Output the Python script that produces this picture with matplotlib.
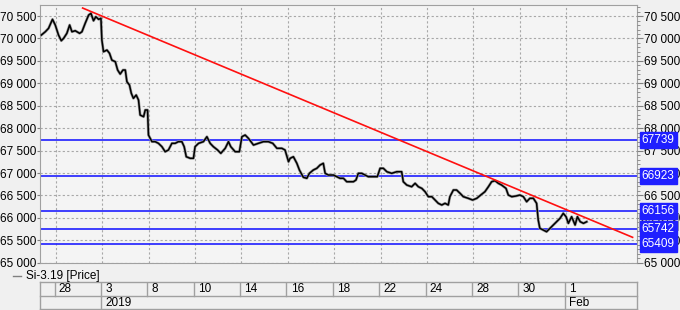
import matplotlib.pyplot as plt
from matplotlib.lines import Line2D
from matplotlib.ticker import FuncFormatter, MultipleLocator

# ======================
# DATA (x in trading days, 0 = Dec 28)
# ======================
day_x = [-0.63, -0.46, -0.32, -0.15, -0.03, 0.11, 0.23, 0.33, 0.47, 0.59, 0.69, 0.83,
         1.02, 1.12, 1.26, 1.41, 1.51, 1.62, 1.72, 1.84, 1.94, 1.98, 2.05, 2.20,
         2.31, 2.41, 2.56, 2.66, 2.77, 2.89, 2.99, 3.06, 3.17, 3.25, 3.34, 3.46,
         3.56, 3.63, 3.78, 3.85, 3.95, 3.99, 4.14, 4.28, 4.42, 4.57, 4.71, 4.85,
         5.00, 5.14, 5.28, 5.43, 5.53, 5.62, 5.79, 5.93, 6.00, 6.15, 6.36, 6.51,
         6.65, 6.79, 6.97, 7.11, 7.30, 7.44, 7.54, 7.73, 7.91, 8.02, 8.16, 8.30,
         8.52, 8.73, 8.95, 9.16, 9.35, 9.53, 9.74, 9.88, 10.03, 10.10, 10.24, 10.39,
         10.50, 10.67, 10.82, 10.93, 11.10, 11.25, 11.39, 11.53, 11.61, 11.75, 11.97, 12.11,
         12.25, 12.40, 12.54, 12.69, 12.83, 12.94, 13.04, 13.19, 13.33, 13.47, 13.69, 13.86,
         13.98, 14.12, 14.27, 14.48, 14.70, 14.91, 14.98, 15.13, 15.34, 15.49, 15.63, 15.78,
         15.92, 16.06, 16.21, 16.35, 16.49, 16.64, 16.78, 16.92, 16.99, 17.14, 17.28, 17.43,
         17.57, 17.78, 17.97, 18.15, 18.32, 18.50, 18.65, 18.79, 18.94, 19.08, 19.22, 19.41,
         19.51, 19.66, 19.84, 20.01, 20.16, 20.30, 20.44, 20.59, 20.73, 20.80, 20.87, 21.02,
         21.16, 21.31, 21.45, 21.59, 21.74, 21.88, 22.00, 22.10, 22.24, 22.39, 22.49, 22.61,
         22.75, 22.89]
price = [70077, 70150, 70226, 70427, 70300, 70077, 69950, 70003, 70115, 70300, 70150, 70173,
         70115, 70150, 70338, 70523, 70560, 70396, 70485, 70427, 70450, 69965, 69705, 69742,
         69669, 69519, 69481, 69297, 69207, 69297, 69297, 69036, 68962, 68777, 68665, 68739,
         68628, 68293, 68255, 68405, 68405, 67847, 67699, 67699, 67662, 67587, 67475, 67513,
         67662, 67662, 67699, 67699, 67587, 67363, 67328, 67328, 67587, 67662, 67699, 67810,
         67662, 67587, 67513, 67439, 67551, 67699, 67587, 67475, 67475, 67810, 67847, 67774,
         67624, 67662, 67699, 67699, 67662, 67551, 67551, 67513, 67252, 67328, 67363, 67216,
         67067, 66904, 66882, 66993, 67067, 67105, 67178, 67216, 66993, 66955, 66955, 66918,
         66882, 66882, 66806, 66806, 66806, 66844, 66993, 66993, 66955, 66918, 66918, 66918,
         67105, 67105, 67029, 66993, 67029, 67029, 66806, 66732, 66694, 66770, 66694, 66657,
         66583, 66472, 66472, 66398, 66324, 66287, 66324, 66287, 66472, 66621, 66621, 66547,
         66472, 66436, 66398, 66436, 66509, 66583, 66694, 66806, 66828, 66770, 66732, 66657,
         66509, 66472, 66487, 66509, 66472, 66360, 66436, 66436, 66324, 65952, 65767, 65729,
         65691, 65767, 65841, 65914, 65990, 66101, 66026, 65878, 66026, 65841, 66026, 65914,
         65878, 65913]

levels = [67739, 66923, 66156, 65742, 65409]
trend_x = [1.15, 24.87]
trend_y = [70679, 65566]
last_price = 65913

grid_days = [0, 2, 4, 6, 8, 10, 12, 14, 16, 18, 20, 22]
day_labels = ["28", "3", "8", "10", "14", "16", "18", "22", "24", "28", "30", "1"]
month_days = [2, 22]
month_labels = ["2019", "Feb"]

# ======================
# STYLE
# ======================
plt.rcParams['font.family'] = ['Liberation Sans', 'DejaVu Sans']
FS = 8.5
BG = "#f0f0f0"
BLUE = "#1f1fff"

fig = plt.figure(figsize=(6.8, 3.1), dpi=100, facecolor=BG)
L, R = 39.5 / 680, 637 / 680
B, T = 1 - 262.7 / 310, 1 - 5.3 / 310
ax = fig.add_axes([L, B, R - L, T - B])
ax.set_facecolor("#f4f4f4")

x_min, x_max = -0.71, 25.06
y_min, y_max = 65000, 70740

fmt = FuncFormatter(lambda v, p: f"{int(v):,}".replace(",", " "))

for lv in levels:
    ax.axhline(lv, color=BLUE, lw=1.2, zorder=2)
ax.plot(day_x, price, color="#9a9a9a", lw=2.0, zorder=3)
ax.plot(day_x, price, color="black", lw=1.1, zorder=4)
ax.plot(trend_x, trend_y, color="#ff1010", lw=1.2, zorder=5)

ax.set_xlim(x_min, x_max)
ax.set_ylim(y_min, y_max)
ax.set_xticks(grid_days)
ax.set_xticklabels([])
ax.tick_params(axis="x", length=0)
ax.yaxis.set_major_locator(MultipleLocator(500))
ax.yaxis.set_major_formatter(fmt)
ax.tick_params(axis="y", labelsize=FS, length=2, pad=0.5, colors="#808080", labelcolor="black")
ax.grid(True, color="#a8a8a8", linestyle=(0, (2, 2)), lw=0.8)
for s in ax.spines.values():
    s.set_color("#a0a0a0")

# right axis with level tags
axr = ax.twinx()
axr.set_ylim(y_min, y_max)
axr.yaxis.set_major_locator(MultipleLocator(500))
axr.yaxis.set_minor_locator(MultipleLocator(100))
axr.yaxis.set_major_formatter(fmt)
axr.tick_params(axis="y", which="major", labelsize=FS, length=4, pad=1,
                colors="#808080", labelcolor="black")
axr.tick_params(axis="y", which="minor", length=2, colors="#808080")
for s in axr.spines.values():
    s.set_visible(False)

axr.text(1.006, last_price, f"{last_price:,}".replace(",", " "),
         transform=axr.get_yaxis_transform(), fontsize=FS, va="center", ha="left",
         color="#202020", clip_on=False, zorder=4,
         bbox=dict(boxstyle="square,pad=0.15", fc="#f4f4f4", ec="#a0a0a0", lw=0.8))
for lv in levels:
    axr.text(1.008, lv, str(lv), transform=axr.get_yaxis_transform(), fontsize=FS,
             va="center", ha="left", color="white", clip_on=False, zorder=5,
             bbox=dict(boxstyle="square,pad=0.17", fc=BLUE, ec=BLUE))

# legend line
fig.add_artist(Line2D([13 / 680, 21 / 680], [1 - 276 / 310] * 2, color="#808080", lw=1))
fig.text(26 / 680, 1 - 276 / 310, "Si-3.19 [Price]", fontsize=FS, va="center", ha="left")

# date table
axt = fig.add_axes([L, 0, R - L, 28 / 310])
axt.set_xlim(x_min, x_max)
axt.set_ylim(0, 28)
axt.axis("off")
tc = "#a0a0a0"
for yy in [27.7, 14, 0.8]:
    axt.plot([x_min, x_max], [yy, yy], color=tc, lw=1, clip_on=False)
for xx in [x_min, x_max]:
    axt.plot([xx, xx], [0.8, 27.7], color=tc, lw=1, clip_on=False)
for d, lab in zip(grid_days, day_labels):
    axt.plot([d - 0.06, d - 0.06], [14, 27.7], color=tc, lw=1)
    axt.text(d + 0.12, 20.8, lab, fontsize=FS, va="center", ha="left")
for d, lab in zip(month_days, month_labels):
    axt.plot([d - 0.06, d - 0.06], [0.8, 14], color=tc, lw=1)
    axt.text(d + 0.12, 7.4, lab, fontsize=FS, va="center", ha="left")

plt.savefig("out.png", dpi=100, facecolor=BG)
